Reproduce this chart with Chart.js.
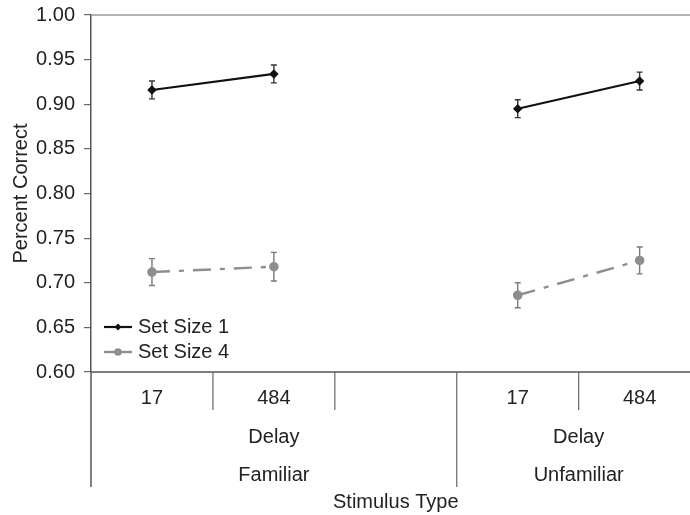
<!DOCTYPE html>
<html>
<head>
<meta charset="utf-8">
<script src="https://cdn.jsdelivr.net/npm/chart.js@4.4.1/dist/chart.umd.min.js"></script>
<style>
  html, body { margin: 0; padding: 0; overflow: hidden; background: #fff; width: 690px; height: 515px; }
  canvas { display: block; }
</style>
</head>
<body>
<canvas id="c" width="707" height="515"></canvas>
<script>
// Delay (ms) categories; the blank slot separates the two stimulus types
const delayLabels = ['17', '484', '', '17', '484'];
const stimulusGroups = ['Familiar', 'Familiar', 'Familiar', 'Unfamiliar', 'Unfamiliar'];
const groupSubLabel = 'Delay';

// Mean percent correct and standard error per set size
const setSize1 = [0.916, 0.934, null, 0.895, 0.926];
const setSize1Err = [0.010, 0.010, null, 0.010, 0.010];
const setSize4 = [0.712, 0.718, null, 0.686, 0.725];
const setSize4Err = [0.015, 0.016, null, 0.014, 0.015];

const yTicks = [0.60, 0.65, 0.70, 0.75, 0.80, 0.85, 0.90, 0.95, 1.00];

const FONT = '"Liberation Sans", Arial, sans-serif';
const TEXT = '#222';
const BLACK = '#111';
const GREY = '#8e8e8e';

const errorBars = {
  id: 'errorBars',
  beforeDatasetsDraw(chart) {
    const { ctx, scales: { x, y } } = chart;
    chart.data.datasets.forEach(ds => {
      const errs = ds.errors;
      ctx.save();
      ctx.strokeStyle = ds.errorColor;
      ctx.lineWidth = 1.4;
      ds.data.forEach((v, i) => {
        if (v == null) return;
        const px = x.getPixelForValue(i);
        const top = y.getPixelForValue(v + errs[i]);
        const bot = y.getPixelForValue(v - errs[i]);
        ctx.beginPath();
        ctx.moveTo(px, top); ctx.lineTo(px, bot);
        ctx.moveTo(px - 3, top); ctx.lineTo(px + 3, top);
        ctx.moveTo(px - 3, bot); ctx.lineTo(px + 3, bot);
        ctx.stroke();
      });
      ctx.restore();
    });
  }
};

const axisFrame = {
  id: 'axisFrame',
  afterDraw(chart) {
    const { ctx, chartArea: a, scales: { x } } = chart;
    const n = delayLabels.length;
    const boundary = k => k === 0 ? a.left : (x.getPixelForValue(k - 1) + x.getPixelForValue(k)) / 2;
    const rowBottom = 410, groupBottom = 487;
    ctx.save();
    // top frame line
    ctx.strokeStyle = '#9a9a9a';
    ctx.lineWidth = 1.5;
    ctx.beginPath(); ctx.moveTo(a.left, a.top); ctx.lineTo(a.right, a.top); ctx.stroke();
    // category axis line
    ctx.strokeStyle = '#555';
    ctx.lineWidth = 1.5;
    ctx.beginPath(); ctx.moveTo(a.left, a.bottom); ctx.lineTo(a.right, a.bottom); ctx.stroke();
    // left edge continues through the label rows
    ctx.beginPath(); ctx.moveTo(a.left, a.bottom); ctx.lineTo(a.left, groupBottom); ctx.stroke();
    // separators between categories
    ctx.lineWidth = 1.2;
    ctx.strokeStyle = '#666';
    for (let k = 1; k < n; k++) {
      const bx = boundary(k);
      const between = stimulusGroups[k] !== stimulusGroups[k - 1];
      ctx.beginPath();
      ctx.moveTo(bx, a.bottom);
      ctx.lineTo(bx, between ? groupBottom : rowBottom);
      ctx.stroke();
    }
    // delay tick labels
    ctx.fillStyle = TEXT;
    ctx.font = '20px ' + FONT;
    ctx.textAlign = 'center';
    ctx.textBaseline = 'middle';
    delayLabels.forEach((lab, i) => ctx.fillText(lab, x.getPixelForValue(i), 398));
    // group labels
    let start = 0;
    for (let k = 1; k <= n; k++) {
      if (k === n || stimulusGroups[k] !== stimulusGroups[start]) {
        const left = boundary(start);
        const right = k === n ? a.right : boundary(k);
        const cx = (left + right) / 2;
        ctx.fillText(groupSubLabel, cx, 437);
        ctx.fillText(stimulusGroups[start], cx, 475);
        start = k;
      }
    }
    ctx.fillText('Stimulus Type', (a.left + a.right) / 2, 502);

    // legend
    chart.data.datasets.forEach((ds, i) => {
      const ly = 327 + i * 25;
      ctx.strokeStyle = ds.borderColor;
      ctx.lineWidth = ds.borderWidth;
      ctx.beginPath(); ctx.moveTo(104, ly); ctx.lineTo(132, ly); ctx.stroke();
      ctx.fillStyle = ds.pointBackgroundColor;
      ctx.beginPath();
      if (ds.pointStyle === 'rectRot') {
        ctx.moveTo(118, ly - 3.5); ctx.lineTo(121.5, ly); ctx.lineTo(118, ly + 3.5); ctx.lineTo(114.5, ly);
        ctx.closePath();
      } else {
        ctx.arc(118, ly, 3.8, 0, Math.PI * 2);
      }
      ctx.fill();
      ctx.fillStyle = TEXT;
      ctx.textAlign = 'left';
      ctx.fillText(ds.label, 138, ly);
    });
    ctx.restore();
  }
};

new Chart(document.getElementById('c'), {
  type: 'line',
  data: {
    labels: delayLabels,
    datasets: [
      {
        label: 'Set Size 1',
        data: setSize1,
        errors: setSize1Err,
        errorColor: '#333',
        borderColor: BLACK,
        borderWidth: 2.2,
        pointStyle: 'rectRot',
        pointRadius: 3.2,
        pointBackgroundColor: BLACK,
        pointBorderColor: BLACK,
        spanGaps: false
      },
      {
        label: 'Set Size 4',
        data: setSize4,
        errors: setSize4Err,
        errorColor: '#7a7a7a',
        borderColor: GREY,
        borderWidth: 2.4,
        borderDash: [18, 9, 5, 9],
        pointStyle: 'circle',
        pointRadius: 3.6,
        pointBackgroundColor: GREY,
        pointBorderColor: GREY,
        spanGaps: false
      }
    ]
  },
  options: {
    responsive: false,
    animation: false,
    devicePixelRatio: 1,
    layout: { padding: { top: 15, bottom: 143, left: 0, right: 2 } },
    plugins: { legend: { display: false }, tooltip: { enabled: false } },
    scales: {
      x: { type: 'category', offset: true, display: false },
      y: {
        min: 0.6,
        max: 1.0,
        afterFit(scale) {
          scale.width = 91;
          scale.paddingTop = 0;
          scale.paddingBottom = 0;
        },
        afterBuildTicks(scale) { scale.ticks = yTicks.map(v => ({ value: v })); },
        ticks: {
          color: TEXT,
          padding: 9,
          font: { family: FONT, size: 20 },
          callback: v => Number(v).toFixed(2)
        },
        grid: { drawOnChartArea: false, drawTicks: true, tickLength: 7, color: '#666', lineWidth: 1.2 },
        border: { display: true, color: '#555', width: 1.5 },
        title: {
          display: true,
          text: 'Percent Correct',
          color: TEXT,
          font: { family: FONT, size: 20 },
          padding: { top: 9, bottom: 0 }
        }
      }
    }
  },
  plugins: [errorBars, axisFrame]
});
</script>
</body>
</html>
